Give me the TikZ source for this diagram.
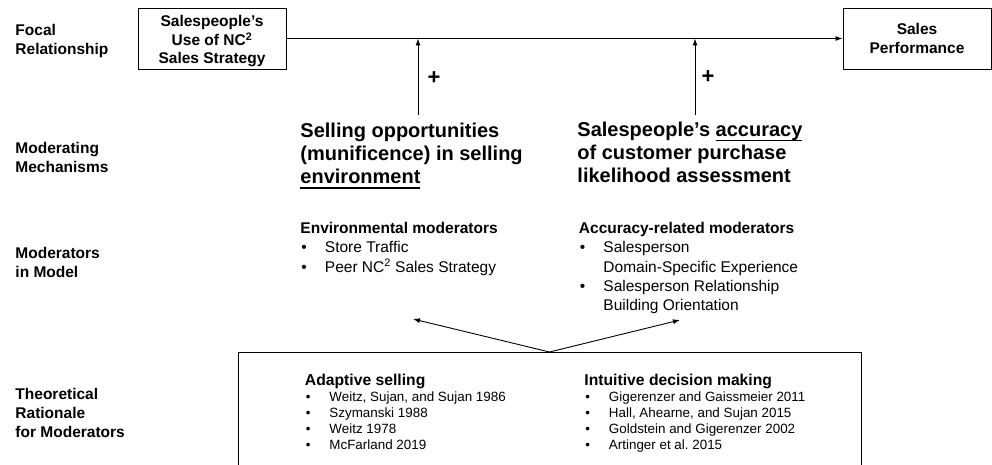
\documentclass[tikz,border=0pt]{standalone}
\usepackage{fontspec}
\setmainfont{Liberation Sans}
\usetikzlibrary{arrows.meta,positioning}

\newcommand{\bitem}{\makebox[24.5pt][l]{\hspace{1pt}\textbullet}}
\newcommand{\bindent}{\hspace*{24.5pt}}
\newcommand{\thickul}[1]{\leavevmode\setbox0\hbox{#1}\rlap{\rule[-5pt]{\wd0}{1.7pt}}\box0}

\begin{document}
\begin{tikzpicture}[x=1pt, y=-1pt, line width=0.9pt,
                >={Latex[length=7pt,width=5pt]}]
        \tikzset{
                rowlabel/.style  = {anchor=north west, inner sep=0pt, align=left,
                                font=\fontsize{15.5}{19}\selectfont\bfseries},
                focalbox/.style  = {draw, inner sep=0pt, minimum width=148pt, minimum height=61pt,
                                align=center, font=\fontsize{15.5}{18.5}\selectfont\bfseries},
                mechanism/.style = {anchor=north west, inner sep=0pt, align=left,
                                font=\fontsize{20}{23.3}\selectfont\bfseries},
                moderator/.style = {anchor=north west, inner sep=0pt, align=left,
                                font=\fontsize{15.5}{19.4}\selectfont},
                theory/.style    = {anchor=north west, inner sep=0pt, align=left,
                                font=\fontsize{13.4}{16}\selectfont},
                plus/.style      = {inner sep=0pt, font=\fontsize{22}{22}\selectfont\bfseries}
        }
        \useasboundingbox (0,0) rectangle (992,465);
        \clip (0,0) rectangle (992,465);

        % labels of the four rows
        \node[rowlabel] (lblFocal)  at (15,24)  {Focal\\Relationship};
        \node[rowlabel] (lblMech)   at (15,142) {Moderating\\Mechanisms};
        \node[rowlabel] (lblMod)    at (15,247) {Moderators\\in Model};
        \node[rowlabel] (lblTheory) at (15,388) {Theoretical\\Rationale\\for Moderators};

        % focal relationship
        \node[focalbox] (strategy)    at (212,38.5) {\rule{0pt}{17pt}Salespeople’s\\Use of NC\textsuperscript{2}\\Sales Strategy};
        \node[focalbox] (performance) at (917,38.5) {Sales\\Performance};
        \draw[->] (strategy) -- (performance);

        % moderating mechanisms, pointing at the focal line
        \node[mechanism] (munificence) at (300,122.4) {Selling opportunities\\(munificence) in selling\\\thickul{environment}};
        \node[mechanism] (accuracy)    at (577,121.4) {Salespeople’s \thickul{accuracy}\\of customer purchase\\likelihood assessment};
        \coordinate (envTail) at (418,115);
        \coordinate (accTail) at (695,115);
        \draw[->] (envTail) -- (envTail |- strategy.east);
        \draw[->] (accTail) -- (accTail |- strategy.east);
        \node[plus] (envSign) at (434,78) {+};
        \node[plus] (accSign) at (708,77) {+};

        % moderators in the model
        \node[moderator] (envMods) at (300,221.7) {\textbf{Environmental moderators}\\
                \bitem Store Traffic\\
                \bitem Peer NC\textsuperscript{2} Sales Strategy};
        \node[moderator] (accMods) at (578.5,221.7) {\textbf{Accuracy-related moderators}\\
                \bitem Salesperson\\
                \bindent Domain-Specific Experience\\
                \bitem Salesperson Relationship\\
                \bindent Building Orientation};

        % theoretical rationale (box runs past the lower edge)
        \node[draw, anchor=north, inner sep=0pt, minimum width=623pt, minimum height=140pt] (rationale) at (549.5,352) {};
        \node[theory] (adaptive) at (304.5,373.6) {{\fontsize{15.7}{16}\selectfont\bfseries Adaptive selling}\\
                \bitem Weitz, Sujan, and Sujan 1986\\
                \bitem Szymanski 1988\\
                \bitem Weitz 1978\\
                \bitem McFarland 2019};
        \node[theory] (intuitive) at (584,373.6) {{\fontsize{15.7}{16}\selectfont\bfseries Intuitive decision making}\\
                \bitem Gigerenzer and Gaissmeier 2011\\
                \bitem Hall, Ahearne, and Sujan 2015\\
                \bitem Goldstein and Gigerenzer 2002\\
                \bitem Artinger et al.\ 2015};
        \coordinate (envHead) at (413,319);
        \coordinate (accHead) at (680,320);
        \draw[->] (rationale.north) -- (envHead);
        \draw[->] (rationale.north) -- (accHead);
\end{tikzpicture}
\end{document}
